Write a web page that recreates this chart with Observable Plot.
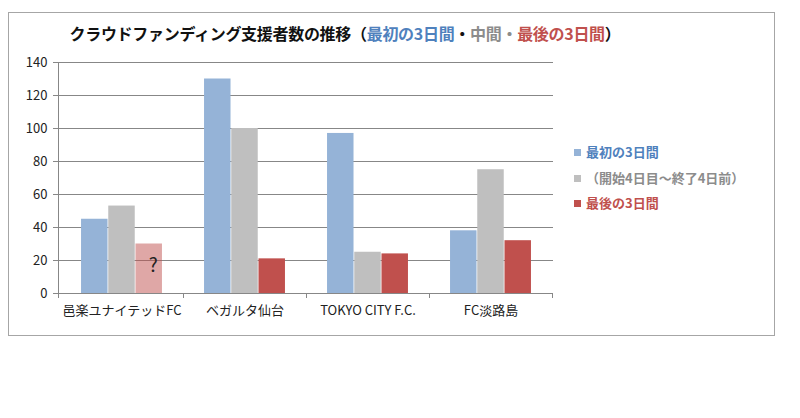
<!DOCTYPE html>
<html><head><meta charset="utf-8">
<script src="https://cdn.jsdelivr.net/npm/d3@7"></script>
<script src="https://cdn.jsdelivr.net/npm/@observablehq/plot@0.6"></script>
<style>
body{margin:0;background:#fff;font-family:"Noto Sans CJK JP","Noto Sans",sans-serif;}
#wrap{position:relative;width:800px;height:418px;}
#frame{position:absolute;left:8px;top:12px;width:767px;height:324px;border:1px solid #a6a6a6;box-sizing:border-box;}
#title{position:absolute;left:0;width:690px;top:21px;text-align:center;font-weight:bold;font-size:16px;color:#111;letter-spacing:-0.3px;}
#chart{position:absolute;left:0;top:0;}
#legend{position:absolute;left:574px;top:139px;font-size:13px;font-weight:bold;line-height:25.5px;}
#legend .sw{display:inline-block;width:7px;height:7px;margin-right:5px;vertical-align:1px;}
</style></head>
<body><div id="wrap"><div id="frame"></div><div id="title"></div><div id="chart"></div><div id="legend"></div></div>
<script>
const categories = ["邑楽ユナイテッドFC", "ベガルタ仙台", "TOKYO CITY F.C.", "FC淡路島"];
const seriesNames = ["最初の3日間", "（開始4日目～終了4日前）", "最後の3日間"];
const firstDays = [45, 130, 97, 38];
const middleDays = [53, 100, 25, 75];
const lastDays = [30, 21, 24, 32];
const estimated = [true, false, false, false]; // last-days value of 邑楽 is uncertain ("?")
const yTicks = [0, 20, 40, 60, 80, 100, 120, 140];
const colors = ["#95b3d7", "#bfbfbf", "#c0504d"];
const textColors = ["#4f81bd", "#8c8c8c", "#c0504d"];

const rows = [];
categories.forEach((c, i) => {
  rows.push({cat: c, s: 0, v: firstDays[i], est: false});
  rows.push({cat: c, s: 1, v: middleDays[i], est: false});
  rows.push({cat: c, s: 2, v: lastDays[i], est: estimated[i]});
});

const W = 800, H = 340, mL = 58, mR = 247, mT = 62, mB = 47;
const step = (W - mL - mR) / categories.length;
const gapHalf = step * 0.17, barW = step * 0.22;
const inset = s => ({insetLeft: gapHalf + s * barW, insetRight: step - gapHalf - (s + 1) * barW});

const marks = [
  Plot.ruleY(yTicks.filter(t => t > 0), {stroke: "#878787", strokeWidth: 1})
];
[0, 1, 2].forEach(s => {
  marks.push(Plot.barY(rows.filter(r => r.s === s), {
    x: "cat", y: "v", fill: colors[s],
    fillOpacity: d => d.est ? 0.5 : 1,
    ...inset(s)
  }));
});
marks.push(Plot.text(rows.filter(r => r.est), {
  x: "cat", y: d => d.v / 2 + 2, text: () => "?", fontSize: 19, fill: "#222",
  dx: gapHalf + 2.5 * barW - step / 2 + 4
}));
marks.push(Plot.ruleY([0], {stroke: "#878787"}));

const plot = Plot.plot({
  width: W, height: H, marginLeft: mL, marginRight: mR, marginTop: mT, marginBottom: mB,
  style: {fontFamily: '"Noto Sans CJK JP","Noto Sans",sans-serif', fontSize: "13px", color: "#222", background: "transparent"},
  x: {domain: categories, padding: 0, label: null, tickSize: 0, tickPadding: 12},
  y: {domain: [0, 140], ticks: yTicks, label: null, tickSize: 5, tickPadding: 6},
  marks
});

// category boundary ticks and the y axis line, placed through the plot's own scales
const xs = plot.scale("x"), ys = plot.scale("y");
const svg = d3.select(plot);
const y0 = ys.apply(0), yTop = ys.apply(140);
const g = svg.append("g").attr("stroke", "#878787");
g.append("line").attr("x1", mL + 0.5).attr("x2", mL + 0.5).attr("y1", yTop).attr("y2", y0 + 5);
categories.forEach(c => {
  const xr = xs.apply(c) + xs.bandwidth;
  g.append("line").attr("x1", Math.round(xr) + 0.5).attr("x2", Math.round(xr) + 0.5).attr("y1", y0).attr("y2", y0 + 5);
});
svg.selectAll("g[aria-label='y-axis tick'] path").attr("stroke", "#878787");
document.getElementById("chart").appendChild(plot);

document.getElementById("title").innerHTML =
  'クラウドファンディング支援者数の推移（<span style="color:' + textColors[0] + '">' + seriesNames[0] + '</span>・' +
  '<span style="color:' + textColors[1] + '">中間・</span><span style="color:' + textColors[2] + '">' + seriesNames[2] + '</span>）';

document.getElementById("legend").innerHTML = seriesNames.map((n, i) =>
  '<div style="color:' + textColors[i] + '"><span class="sw" style="background:' + colors[i] + '"></span>' + n + '</div>').join("");
</script></body></html>
